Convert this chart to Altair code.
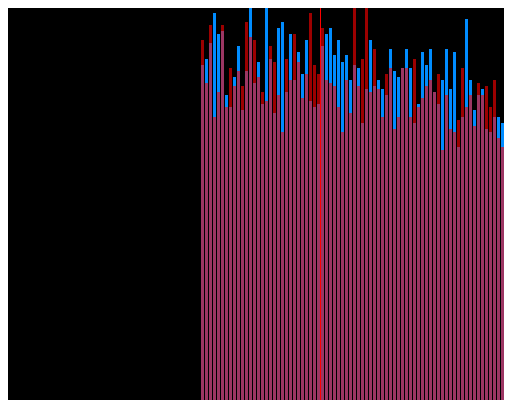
import altair as alt
import pandas as pd

# Time slots across the chart; the earliest ones have no data
n_slots = 126
n_empty = 48
marker_slot = 78  # slot where the red marker line sits

blue_vals = [335, 341, 357, 387, 366, 369, 305, 293, 323, 354, 290,
             329, 393, 317, 338, 296, 393, 341, 287, 372, 378, 308,
             366, 320, 348, 326, 360, 299, 293, 296, 354, 366, 372,
             345, 360, 338, 345, 320, 335, 332, 277, 311, 360, 314,
             320, 311, 305, 351, 329, 323, 332, 351, 332, 277, 296,
             348, 335, 351, 308, 296, 320, 351, 311, 348, 253, 283,
             381, 320, 290, 305, 311, 271, 268, 283, 283, 277, 268, 222]

red_vals = [360, 317, 375, 283, 308, 375, 293, 332, 314, 329, 314,
            378, 363, 360, 323, 308, 299, 354, 338, 305, 268, 341,
            320, 366, 338, 302, 326, 387, 335, 326, 372, 320, 317,
            314, 293, 268, 320, 287, 393, 314, 341, 400, 308, 351,
            311, 283, 326, 332, 271, 283, 332, 332, 283, 341, 293,
            302, 314, 320, 308, 326, 250, 305, 271, 268, 280, 332,
            293, 305, 274, 317, 305, 314, 293, 320, 262, 253, 259, 232]

slots = list(range(n_slots))
blue = [None] * n_empty + blue_vals
red = [None] * n_empty + red_vals

df = pd.DataFrame({"slot": slots, "blue": blue, "red": red})
marker_df = pd.DataFrame({"slot": [marker_slot]})

xscale = alt.Scale(domain=slots, range=[0, 504], paddingInner=0.25, paddingOuter=0.125, align=1)
yscale = alt.Scale(domain=[0, 392])

blue_bars = alt.Chart(df).mark_bar(color="#008cff", clip=True).encode(
    x=alt.X("slot:O", axis=None, scale=xscale),
    y=alt.Y("blue:Q", axis=None, scale=yscale),
)

red_bars = alt.Chart(df).mark_bar(color="#ff0000", opacity=0.61, clip=True).encode(
    x=alt.X("slot:O", axis=None, scale=xscale),
    y=alt.Y("red:Q", axis=None, scale=yscale),
)

rule = alt.Chart(marker_df).mark_rule(color="#ff0000", strokeWidth=1, xOffset=-0.5).encode(
    x=alt.X("slot:O", axis=None, scale=xscale, bandPosition=0),
)

chart = (
    alt.layer(blue_bars, red_bars, rule)
    .properties(width=496, height=392, padding=0, autosize=alt.AutoSizeParams(type="none"),
                background="#000000")
    .configure_view(stroke=None)
)

chart.save("out.html", embed_options={"renderer": "svg", "actions": False})
